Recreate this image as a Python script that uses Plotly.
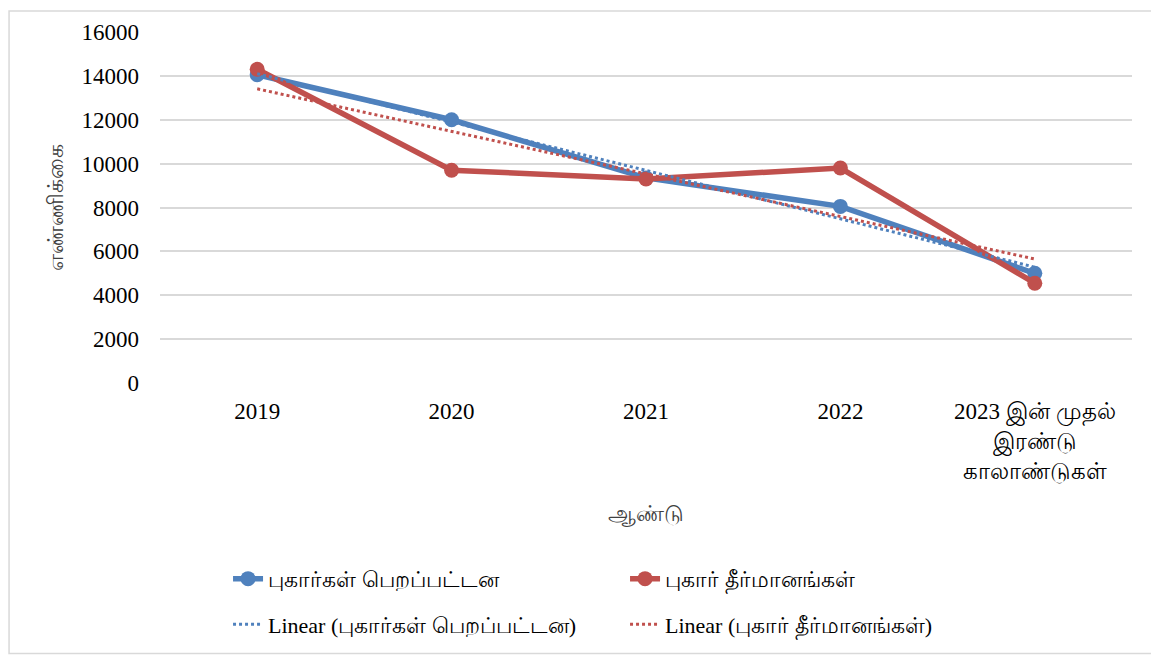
import numpy as np
import plotly.graph_objects as go

# categories on the x axis
years = ["2019", "2020", "2021", "2022", "2023 இன் முதல்<br>இரண்டு<br>காலாண்டுகள்"]

# series values
received = [14050, 12000, 9350, 8050, 5000]
resolved = [14300, 9700, 9300, 9800, 4550]

name_recv = "புகார்கள் பெறப்பட்டன"
name_res = "புகார் தீர்மானங்கள்"

y_ticks = [0, 2000, 4000, 6000, 8000, 10000, 12000, 14000, 16000]

BLUE = "#4F81BD"
RED = "#C0504D"
SERIF = "Liberation Serif"


def linear(vals):
    # excel style linear trendline over the category index
    idx = np.arange(len(vals))
    m, c = np.polyfit(idx, vals, 1)
    return list(m * idx + c)


fig = go.Figure()

fig.add_trace(go.Scatter(x=years, y=received, name=name_recv, mode="lines+markers",
                         line=dict(color=BLUE, width=5.5), marker=dict(size=15, color=BLUE),
                         legend="legend"))
fig.add_trace(go.Scatter(x=years, y=resolved, name=name_res, mode="lines+markers",
                         line=dict(color=RED, width=5.5), marker=dict(size=15, color=RED),
                         legend="legend"))
fig.add_trace(go.Scatter(x=years, y=linear(received), name="Linear (" + name_recv + ")",
                         mode="lines", line=dict(color=BLUE, width=3, dash="dot"),
                         legend="legend2"))
fig.add_trace(go.Scatter(x=years, y=linear(resolved), name="Linear (" + name_res + ")",
                         mode="lines", line=dict(color=RED, width=3, dash="dot"),
                         legend="legend2"))

leg = dict(orientation="h", xanchor="left", yanchor="middle", x=0.070,
           entrywidth=352, entrywidthmode="pixels",
           font=dict(family=SERIF, size=22, color="#000000"),
           bgcolor="rgba(0,0,0,0)", itemwidth=30)

# the page body adds 8px, so the figure is 8px smaller and margins shifted
fig.update_layout(
    width=1151, height=649,
    margin=dict(l=152, r=27, t=22, b=274),
    paper_bgcolor="white", plot_bgcolor="white",
    font=dict(family=SERIF, size=22, color="#000000"),
    legend=dict(leg, y=-0.558),
    legend2=dict(leg, y=-0.688),
    showlegend=True,
)

fig.update_xaxes(type="category", range=[-0.5, 4.5], showgrid=False, showline=False,
                 zeroline=False, ticks="", ticklabelstandoff=12,
                 tickfont=dict(family=SERIF, size=23, color="#000000"))
fig.update_yaxes(range=[0, 16000], tickvals=y_ticks, showgrid=True,
                 gridcolor="#D9D9D9", gridwidth=1.5, zeroline=False, showline=False,
                 ticks="", tickformat="d", ticklabelstandoff=20,
                 tickfont=dict(family=SERIF, size=23, color="#000000"))

# axis titles
fig.add_annotation(text="எண்ணிக்கை", textangle=-90, xref="paper", yref="paper",
                   x=-0.107, y=0.5, xanchor="center", yanchor="middle", showarrow=False,
                   font=dict(size=22, color="#404040"))
fig.add_annotation(text="ஆண்டு", xref="paper", yref="paper",
                   x=0.5, y=-0.374, xanchor="center", yanchor="middle", showarrow=False,
                   font=dict(size=22, color="#404040"))

# chart border
fig.add_shape(type="rect", xref="paper", yref="paper",
              x0=-0.1553, x1=1.0237, y0=-0.7705, y1=1.0595,
              line=dict(color="#D9D9D9", width=1.5), fillcolor="rgba(0,0,0,0)")

fig.write_html("out.html")
